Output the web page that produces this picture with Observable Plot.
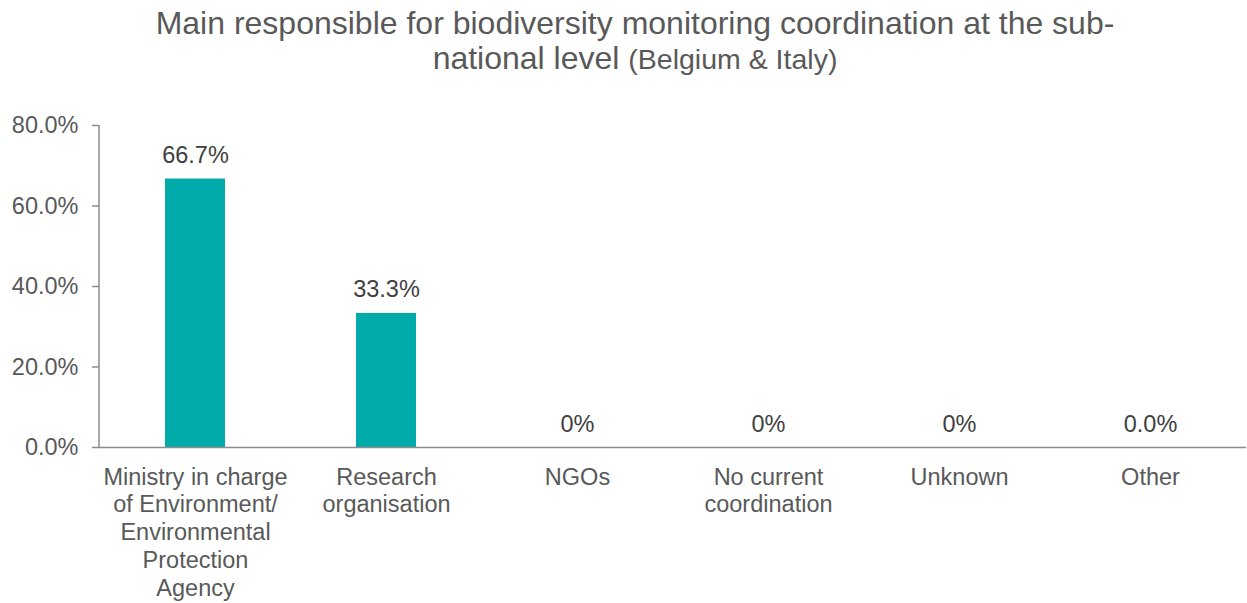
<!DOCTYPE html>
<html><head><meta charset="utf-8">
<script src="https://cdn.jsdelivr.net/npm/d3@7"></script>
<script src="https://cdn.jsdelivr.net/npm/@observablehq/plot@0.6"></script>
<style>
body{margin:0;background:#fff;font-family:"Liberation Sans",Arial,sans-serif;}
#title{box-sizing:border-box;height:90px;padding-top:6px;text-align:center;color:#595959;font-size:32px;line-height:35px;width:1270px;}
#title .sub{font-size:28.5px;}
#chart svg{display:block;}
</style></head><body>
<div id="title">Main responsible for biodiversity monitoring coordination at the sub-<br>national level <span class="sub">(Belgium &amp; Italy)</span></div>
<div id="chart"></div>
<script>
const categories = ["Ministry in charge of Environment/ Environmental Protection Agency", "Research organisation", "NGOs", "No current coordination", "Unknown", "Other"];
const tickLabels = ["Ministry in charge\nof Environment/\nEnvironmental\nProtection\nAgency", "Research\norganisation", "NGOs", "No current\ncoordination", "Unknown", "Other"];
const values = [66.7, 33.3, 0, 0, 0, 0];
const valueLabels = ["66.7%", "33.3%", "0%", "0%", "0%", "0.0%"];
const yTicks = [0, 20, 40, 60, 80];

const data = categories.map((c, i) => ({category: c, value: values[i], label: valueLabels[i]}));
const tickMap = new Map(categories.map((c, i) => [c, tickLabels[i]]));

const axisGray = "#8c8c8c";
const textGray = "#595959";
const fs = 23.5;

const chart = Plot.plot({
  width: 1247,
  height: 513,
  marginTop: 35,
  marginBottom: 156,
  marginLeft: 99,
  marginRight: 1,
  style: {fontFamily: '"Liberation Sans", Arial, sans-serif', background: "#fff", color: textGray},
  x: {domain: categories, paddingInner: 0.686, paddingOuter: 0.343, label: null},
  y: {domain: [0, 80], label: null},
  marks: [
    Plot.axisY({ticks: yTicks, tickSize: 7, tickPadding: 14, tickFormat: d => d.toFixed(1) + "%", stroke: axisGray, strokeWidth: 1.5, fill: textGray, fontSize: fs}),
    Plot.axisX({tickSize: 0, tickPadding: 17.5, lineHeight: 1.18, fill: textGray, fontSize: fs,
      tickFormat: d => { const t = tickMap.get(d); return t.includes("\n") ? t : t + "\n"; }}),
    Plot.barY(data, {x: "category", y: "value", fill: "#00aba9"}),
    Plot.ruleY([0], {stroke: axisGray, strokeWidth: 1.5}),
    Plot.text(data, {x: "category", y: "value", text: "label", dy: -16, lineAnchor: "bottom", fontSize: fs, fill: "#404040"})
  ]
});

// left axis line drawn from the scales
const ys = chart.scale("y"), xs = chart.scale("x");
d3.select(chart).append("line")
  .attr("x1", xs.range[0]).attr("x2", xs.range[0])
  .attr("y1", ys.range[0]).attr("y2", ys.range[1])
  .attr("stroke", axisGray).attr("stroke-width", 1.5);

document.getElementById("chart").appendChild(chart);
</script>
</body></html>
